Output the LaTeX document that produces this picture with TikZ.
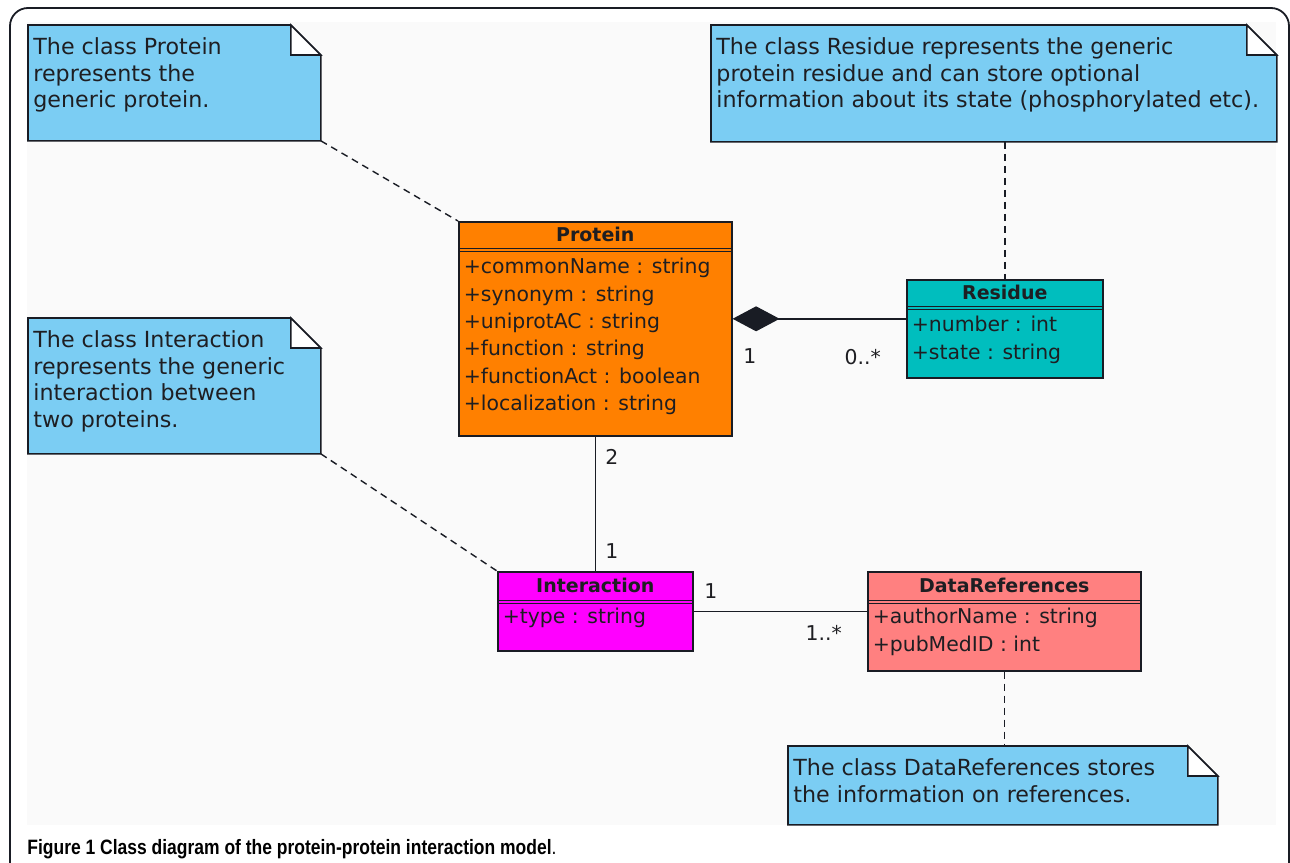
\documentclass[tikz,border=0pt]{standalone}
\usepackage{fontspec}
\setmainfont{DejaVu Sans}
\newfontfamily\capfont[FakeStretch=0.84]{Liberation Sans}
\usetikzlibrary{arrows.meta,positioning,calc}

\definecolor{protcol}{RGB}{255,128,0}
\definecolor{rescol}{RGB}{0,190,190}
\definecolor{intcol}{RGB}{255,0,255}
\definecolor{refcol}{RGB}{255,128,128}
\definecolor{notecol}{RGB}{123,205,243}
\definecolor{linecol}{RGB}{25,28,36}
\definecolor{txtcol}{RGB}{30,30,34}
\definecolor{bgcol}{RGB}{250,250,250}

\tikzset{
  cls/.style={draw=linecol, line width=0.8pt, anchor=north west, inner sep=0pt},
  clshead/.style={anchor=north, minimum height=13.5pt, inner sep=0pt,
    font=\fontsize{9.5}{11}\selectfont\bfseries, text=txtcol},
  attr/.style={anchor=north west, inner sep=0pt, align=left,
    font=\fontsize{10.2}{13.7}\selectfont, text=txtcol},
  note/.style={anchor=north west, inner sep=0pt},
  notetxt/.style={anchor=north west, inner sep=0pt, align=left,
    font=\fontsize{11.1}{13.4}\selectfont, text=txtcol},
  mult/.style={font=\fontsize{10.2}{12}\selectfont, text=txtcol, inner sep=0pt},
  dep/.style={draw=linecol, line width=0.7pt, dash pattern=on 3.5pt off 2.5pt},
  assoc/.style={draw=linecol, line width=0.7pt}
}

% note box with folded corner
\newcommand\dogear[1]{%
  \filldraw[fill=notecol, draw=linecol, line width=0.8pt]
    (#1.south west) -- (#1.north west) -- ($(#1.north east)+(-30,0)$)
    -- ($(#1.north east)+(0,30)$) -- (#1.south east) -- cycle;
  \filldraw[fill=white, draw=linecol, line width=0.8pt]
    ($(#1.north east)+(-30,0)$) -- ($(#1.north east)+(-30,30)$)
    -- ($(#1.north east)+(0,30)$) -- cycle;
}
% double line under a class name
\newcommand\namesep[1]{%
  \draw[linecol, line width=0.6pt] (#1.south west) -- (#1.south east);
  \draw[linecol, line width=0.6pt] ([yshift=-1.3pt]#1.south west) -- ([yshift=-1.3pt]#1.south east);
}

\begin{document}
\begin{tikzpicture}[x=0.5pt, y=-0.5pt]
\useasboundingbox (0,0) rectangle (1290,862);
\clip (0,0) rectangle (1290,862);

% frame
\fill[bgcol] (27,22) rectangle (1276,825);
\draw[linecol, line width=0.9pt, rounded corners=9pt] (10,900) -- (10,8) -- (1289,8) -- (1289,900);

% notes
\node[note, minimum width=146pt, minimum height=57.5pt] (protnote) at (28,25) {};
\node[note, minimum width=282.5pt, minimum height=58pt] (resnote) at (711,25) {};
\node[note, minimum width=146pt, minimum height=67.5pt] (intnote) at (28,318) {};
\node[note, minimum width=214.5pt, minimum height=39pt] (refnote) at (788,746) {};
\dogear{protnote}
\dogear{resnote}
\dogear{intnote}
\dogear{refnote}
\node[notetxt] at ($(protnote.north west)+(5,12)$) {The class Protein\\represents the\\generic protein.};
\node[notetxt] at ($(resnote.north west)+(5,12)$) {The class Residue represents the generic\\protein residue and can store optional\\information about its state (phosphorylated etc).};
\node[notetxt] at ($(intnote.north west)+(5,12)$) {The class Interaction\\represents the generic\\interaction between\\two proteins.};
\node[notetxt] at ($(refnote.north west)+(5,12)$) {The class DataReferences stores\\the information on references.};

% classes
\node[cls, fill=protcol, minimum width=136.5pt, minimum height=107pt] (prot) at (458,221) {};
\node[clshead, minimum width=136.5pt] (prothead) at (prot.north) {Protein};
\namesep{prothead}
\node[attr] at ($(prothead.south west)+(5,9)$) {+commonName : string\\+synonym : string\\+uniprotAC : string\\+function : string\\+functionAct : boolean\\+localization : string};

\node[cls, fill=rescol, minimum width=98pt, minimum height=49pt] (res) at (906,279) {};
\node[clshead, minimum width=98pt] (reshead) at (res.north) {Residue};
\namesep{reshead}
\node[attr] at ($(reshead.south west)+(5,9)$) {+number : int\\+state : string};

\node[cls, fill=intcol, minimum width=97.5pt, minimum height=39.5pt] (inter) at (497,571) {};
\node[clshead, minimum width=97.5pt, minimum height=14.5pt] (interhead) at (inter.north) {Interaction};
\namesep{interhead}
\node[attr] at ($(interhead.south west)+(5,7)$) {+type : string};

\node[cls, fill=refcol, minimum width=136.5pt, minimum height=49.5pt] (dref) at (867,571) {};
\node[clshead, minimum width=136.5pt, minimum height=14.5pt] (drefhead) at (dref.north) {DataReferences};
\namesep{drefhead}
\node[attr] at ($(drefhead.south west)+(5,7)$) {+authorName : string\\+pubMedID : int};

% associations
\draw[assoc, {Diamond[length=23.5pt, width=12.5pt]}-] ([yshift=5pt]prot.east) -- ([yshift=5pt]res.west)
  node[mult, pos=0.1, below=14.7pt] {1}
  node[mult, pos=0.75, below=14.7pt] {0..*};
\draw[assoc] (prot.south) -- (inter.north)
  node[mult, pos=0.15, right=4.7pt] {2}
  node[mult, pos=0.85, right=4.7pt] {1};
\draw[assoc] (inter.east) -- (inter.east -| dref.west)
  node[mult, pos=0.1, above=6.2pt] {1}
  node[mult, pos=0.75, below=6.7pt] {1..*};

% note links
\draw[dep] (protnote.south east) -- (prot.north west);
\draw[dep] (intnote.south east) -- (inter.north west);
\draw[dep] (res.north |- resnote.south) -- (res.north);
\draw[dep] (dref.south) -- (dref.south |- refnote.north);

% caption
\node[anchor=base west, inner sep=0pt, font=\capfont\fontsize{10.4}{12}\selectfont, text=black] (cap) at (27,854)
  {\textbf{Figure 1 Class diagram of the protein-protein interaction model}.};
\end{tikzpicture}
\end{document}
